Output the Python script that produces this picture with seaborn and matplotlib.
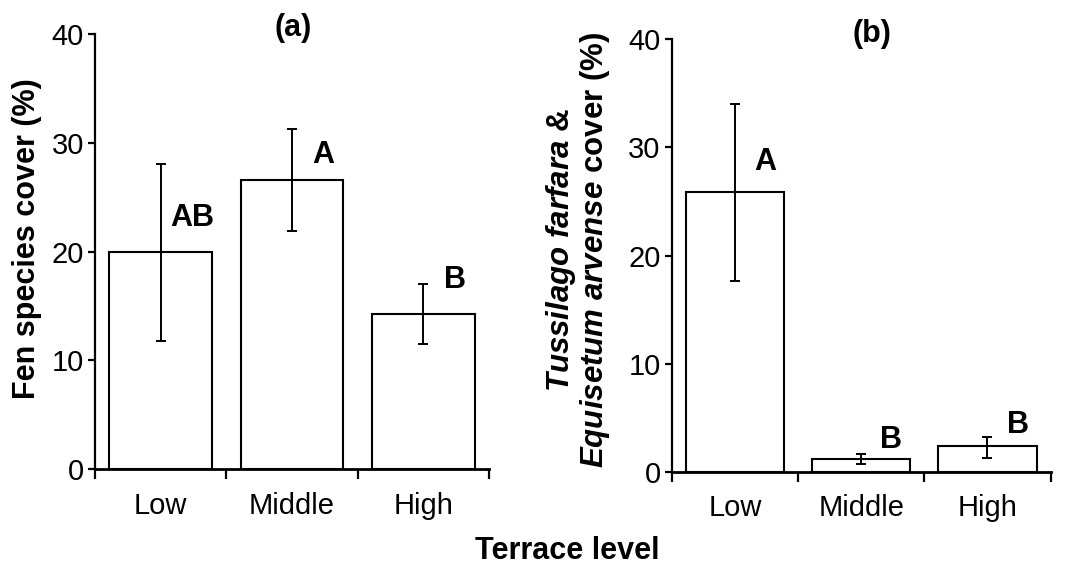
import numpy as np
import matplotlib
matplotlib.use("Agg")
import matplotlib.pyplot as plt
import seaborn as sns

levels = ["Low", "Middle", "High"]

# panel (a): fen species cover
fen_mean = [20.0, 26.6, 14.3]
fen_lo = [11.8, 21.9, 11.5]
fen_hi = [28.1, 31.3, 17.0]
fen_letters = ["AB", "A", "B"]
fen_letter_y = [23.1, 28.9, 17.4]

# panel (b): Tussilago farfara & Equisetum arvense cover
tus_mean = [25.85, 1.2, 2.4]
tus_lo = [17.7, 0.7, 1.3]
tus_hi = [34.0, 1.7, 3.25]
tus_letters = ["A", "B", "B"]
tus_letter_y = [28.7, 2.95, 4.3]

sns.set_style("ticks")
plt.rcParams["font.family"] = ["Liberation Sans", "DejaVu Sans"]
plt.rcParams["mathtext.fontset"] = "custom"
plt.rcParams["mathtext.bfit"] = "Liberation Sans:bold:italic"
plt.rcParams["mathtext.it"] = "Liberation Sans:italic"
plt.rcParams["mathtext.rm"] = "Liberation Sans"
plt.rcParams["mathtext.bf"] = "Liberation Sans:bold"
for k in ["text.color", "axes.labelcolor", "xtick.color", "ytick.color", "axes.edgecolor"]:
    plt.rcParams[k] = "black"

fig = plt.figure(figsize=(10.66, 5.67), dpi=100)
ax1 = fig.add_axes([0.0891, 0.1723, 0.3696, 0.7677])
ax2 = fig.add_axes([0.6301, 0.1676, 0.3555, 0.7631])


def draw(ax, mean, lo, hi, letters, letter_y):
    sns.barplot(x=levels, y=mean, color="white", edgecolor="black",
                linewidth=1.5, width=0.78, errorbar=None, ax=ax)
    for p in ax.patches:
        p.set_facecolor("white")
    pos = np.arange(len(levels))
    m = np.array(mean)
    yerr = [m - np.array(lo), np.array(hi) - m]
    ax.errorbar(pos, m, yerr=yerr, fmt="none", ecolor="black",
                elinewidth=1.4, capsize=3.5, capthick=1.4)
    for i, (t, y) in enumerate(zip(letters, letter_y)):
        ax.text(i + 0.24, y, t, ha="center", va="center",
                fontsize=22, fontweight="bold")
    ax.set_xlim(-0.5, 2.5)
    ax.set_ylim(0, 40)
    ax.set_yticks([0, 10, 20, 30, 40])
    ax.set_xticks([-0.5, 0.5, 1.5, 2.5])
    ax.set_xticklabels([])
    ax.set_xticks(pos, minor=True)
    ax.set_xticklabels(levels, minor=True)
    ax.tick_params(axis="x", which="major", length=7, width=1.6, direction="out")
    ax.tick_params(axis="x", which="minor", length=0, pad=16, labelsize=21)
    ax.tick_params(axis="y", length=5, width=1.6, pad=3, labelsize=21)
    for s in ["top", "right"]:
        ax.spines[s].set_visible(False)
    ax.spines["left"].set_linewidth(1.6)
    ax.spines["bottom"].set_linewidth(2.0)
    ax.set_xlabel("")


draw(ax1, fen_mean, fen_lo, fen_hi, fen_letters, fen_letter_y)
draw(ax2, tus_mean, tus_lo, tus_hi, tus_letters, tus_letter_y)

ax1.set_ylabel("Fen species cover (%)", fontsize=22, fontweight="bold")
ax1.yaxis.set_label_coords(-0.135, 0.531)
ax2.set_ylabel("$\\mathbfit{Tussilago\\ farfara}$ &\n$\\mathbfit{Equisetum\\ arvense}$ cover (%)",
               fontsize=22.5, fontweight="bold", multialignment="center", linespacing=1.0)
ax2.yaxis.set_label_coords(-0.158, 0.513)

ax1.text(0.503, 1.014, "(a)", transform=ax1.transAxes, ha="center", va="center",
         fontsize=22, fontweight="bold")
ax2.text(0.528, 1.012, "(b)", transform=ax2.transAxes, ha="center", va="center",
         fontsize=22, fontweight="bold")

fig.text(0.532, 0.028, "Terrace level", ha="center", va="center",
         fontsize=22, fontweight="bold")

fig.savefig("out.png", dpi=100)
